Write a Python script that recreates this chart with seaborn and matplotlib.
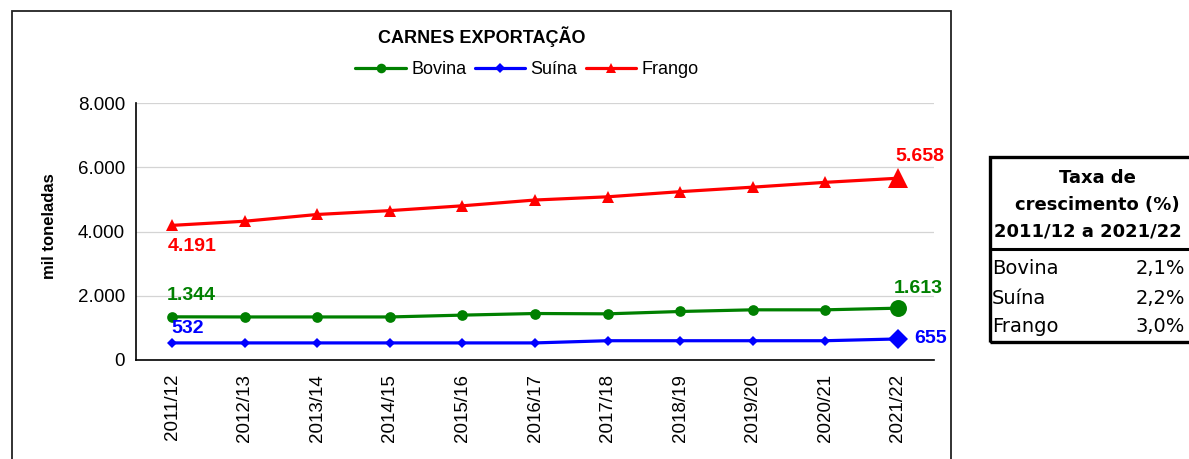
import numpy as np
import pandas as pd
import seaborn as sns
import matplotlib.pyplot as plt
from matplotlib.patches import Rectangle
from matplotlib.lines import Line2D

# %%
periodos = ["2011/12", "2012/13", "2013/14", "2014/15", "2015/16", "2016/17",
            "2017/18", "2018/19", "2019/20", "2020/21", "2021/22"]
bovina = [1344, 1340, 1340, 1340, 1397, 1447, 1437, 1510, 1562, 1562, 1613]
suina = [532, 532, 532, 532, 532, 532, 600, 600, 600, 600, 655]
frango = [4191, 4320, 4530, 4650, 4800, 4980, 5080, 5240, 5380, 5530, 5658]

series_names = ["Bovina", "Suína", "Frango"]
taxas = ["2,1%", "2,2%", "3,0%"]

df = pd.DataFrame({"periodo": periodos, "Bovina": bovina, "Suína": suina, "Frango": frango})
long_df = df.melt(id_vars="periodo", var_name="carne", value_name="mil_t")

# %%
W, H = 1189, 459


def fx(x):
    return x / W


def fy(y):
    return 1 - y / H


sns.set_style("white")
plt.rcParams["font.family"] = ["Liberation Sans", "DejaVu Sans"]
plt.rcParams["text.color"] = "black"
plt.rcParams["xtick.color"] = "black"
plt.rcParams["ytick.color"] = "black"
plt.rcParams["axes.labelcolor"] = "black"

fig = plt.figure(figsize=(W / 100, H / 100), dpi=100)
ax = fig.add_axes([fx(136), fy(360), fx(934) - fx(136), fy(103) - fy(360)])

cores = {"Bovina": "#008000", "Suína": "#0000ff", "Frango": "#ff0000"}
marcas = {"Bovina": "o", "Suína": "D", "Frango": "^"}
tam = {"Bovina": 7.7, "Suína": 5.2, "Frango": 8.6}
tam_fim = {"Bovina": 12.2, "Suína": 10.2, "Frango": 14.4}

for nome in series_names:
    sub = long_df[long_df["carne"] == nome]
    sns.lineplot(data=sub, x="periodo", y="mil_t", ax=ax, color=cores[nome],
                 marker=marcas[nome], markersize=tam[nome], markeredgewidth=0,
                 linewidth=2.3, sort=False, label=nome, legend=False)
    ax.plot(sub["periodo"].iloc[-1], sub["mil_t"].iloc[-1], marker=marcas[nome],
            ms=tam_fim[nome], mew=0, color=cores[nome], linestyle="none")

ax.set_ylim(0, 8000)
ax.set_xlim(-0.5, len(periodos) - 0.5)
ax.set_yticks(range(0, 8001, 2000))
ax.set_yticklabels([f"{v:,}".replace(",", ".") for v in range(0, 8001, 2000)], fontsize=13.5)
ax.set_xticks(range(len(periodos)))
ax.set_xticklabels(periodos, rotation=90, fontsize=13.5)
ax.set_xticks(np.arange(-0.5, len(periodos), 1), minor=True)
ax.tick_params(axis="x", which="major", length=0, pad=10)
ax.tick_params(axis="x", which="minor", length=4, width=1, color="black", direction="out")
ax.tick_params(axis="y", length=4, width=1, color="black", direction="out", pad=4)
ax.grid(axis="y", color="#d4d4d4", linewidth=0.9)
ax.set_axisbelow(True)
for s in ["top", "right"]:
    ax.spines[s].set_visible(False)
for s in ["left", "bottom"]:
    ax.spines[s].set_color("black")
    ax.spines[s].set_linewidth(1.2)
ax.set_xlabel("")
ax.set_ylabel("")
fig.text(fx(50), fy(226), "mil toneladas", rotation=90, ha="center", va="center",
         fontsize=12, fontweight="bold")

# valores inicial e final
rotulos = [
    ("Frango", 0, (14, -15)), ("Bovina", 0, (14, 15)), ("Suína", 0, (11, 10.5)),
    ("Frango", -1, (16, 16)), ("Bovina", -1, (15, 14)), ("Suína", -1, (24, 0)),
]
for nome, i, off in rotulos:
    v = df[nome].iloc[i]
    ax.annotate(f"{v:,}".replace(",", "."), (df["periodo"].iloc[i], v),
                xytext=off, textcoords="offset points", ha="center", va="center",
                color=cores[nome], fontsize=14, fontweight="bold", annotation_clip=False)

# titulo e legenda
fig.text(fx(482), fy(37), "CARNES EXPORTAÇÃO", ha="center", va="center",
         fontsize=13, fontweight="bold")
handles = [Line2D([], [], color=cores[n], marker=marcas[n], ms=tam[n] * 0.9, mew=0,
                  linewidth=2.3) for n in series_names]
fig.legend(handles, series_names, loc="center", bbox_to_anchor=(fx(527), fy(70)),
           ncol=3, frameon=False, fontsize=13, handlelength=2.8, handletextpad=0.3,
           columnspacing=0.45)

# moldura do grafico
fig.patches.append(Rectangle((fx(12), -0.1), fx(951) - fx(12), fy(11) + 0.1,
                             transform=fig.transFigure, fill=False,
                             edgecolor="#222222", linewidth=1.3))

# tabela de taxas
fig.patches.append(Rectangle((fx(990), fy(342)), fx(1200) - fx(990), fy(157) - fy(342),
                             transform=fig.transFigure, fill=False,
                             edgecolor="black", linewidth=2.4))
fig.add_artist(Line2D([fx(990), fx(1200)], [fy(249), fy(249)],
                      transform=fig.transFigure, color="black", linewidth=2.2))
for txt, x, y in zip(["Taxa de", "crescimento (%)", "2011/12 a 2021/22"],
                     [1097, 1097, 1088], [178, 205, 232]):
    fig.text(fx(x), fy(y), txt, ha="center", va="center", fontsize=13,
             fontweight="bold", family=["DejaVu Sans"])
for nome, taxa, y in zip(series_names, taxas, [269, 298, 327]):
    fig.text(fx(992), fy(y), nome, ha="left", va="center", fontsize=14,
             family=["DejaVu Sans"])
    fig.text(fx(1185), fy(y), taxa, ha="right", va="center", fontsize=14,
             family=["DejaVu Sans"])

fig.savefig("out.png", dpi=100)
